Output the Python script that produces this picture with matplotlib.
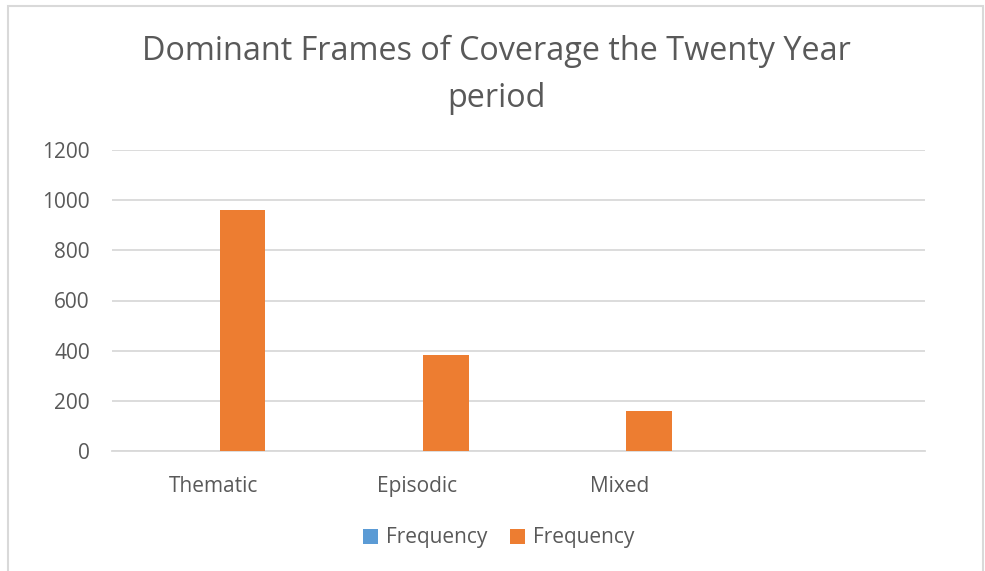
import matplotlib
matplotlib.use("Agg")
import matplotlib.pyplot as plt
from matplotlib.patches import Rectangle, Patch
import numpy as np

plt.rcParams['font.family'] = ['Open Sans', 'DejaVu Sans']

title = "Dominant Frames of Coverage the Twenty Year\nperiod"
categories = ["Thematic", "Episodic", "Mixed", ""]
series_names = ["Frequency", "Frequency"]
series_a = [0, 0, 0, 0]
series_b = [962, 383, 161, 0]
y_ticks = [0, 200, 400, 600, 800, 1000, 1200]

BLUE = "#5B9BD5"
ORANGE = "#ED7D31"
GRID = "#D9D9D9"
TEXT = "#595959"

W, H = 985, 571
fig = plt.figure(figsize=(W / 100, H / 100), dpi=100)
ax = fig.add_axes([112 / W, 1 - 451 / H, (925 - 112) / W, (451 - 150) / H])

x = np.arange(len(categories))
bw = 1 / 4.46           # gap width 219%, overlap -27%
off = 0.635 * bw
ax.bar(x - off, series_a, width=bw, color=BLUE, label=series_names[0], zorder=3)
ax.bar(x + off, series_b, width=bw, color=ORANGE, label=series_names[1], zorder=3)

ax.set_xlim(-0.5, len(categories) - 0.5)
ax.set_ylim(0, 1200)
ax.set_yticks(y_ticks)
ax.set_yticklabels([str(v) for v in y_ticks])
ax.set_xticks(x)
ax.set_xticklabels(categories)
ax.yaxis.grid(True, color=GRID, linewidth=1.3, zorder=0)
ax.set_axisbelow(True)
for s in ["top", "right", "left"]:
    ax.spines[s].set_visible(False)
ax.spines["bottom"].set_color(GRID)
ax.spines["bottom"].set_linewidth(1.3)
ax.tick_params(axis="both", length=0, labelsize=15, colors=TEXT)
ax.tick_params(axis="y", pad=16)
ax.tick_params(axis="x", pad=18)

fig.text(496 / W, 1 - 75 / H, title, ha="center", va="center",
         fontsize=23.3, color=TEXT, linespacing=1.55)

handles = [Patch(facecolor=BLUE, edgecolor="none"),
           Patch(facecolor=ORANGE, edgecolor="none")]
fig.legend(handles, series_names, loc="center",
           bbox_to_anchor=(499 / W, 1 - 538 / H), ncol=2, frameon=False,
           fontsize=15, labelcolor=TEXT, handlelength=0.7, handleheight=0.7,
           handletextpad=0.4, columnspacing=1.1)

fig.add_artist(Rectangle((7.5 / W, -0.05), (983 - 7.5) / W, 1.05 - 6.5 / H,
                         transform=fig.transFigure, fill=False,
                         edgecolor=GRID, linewidth=1.5))

fig.savefig("out.png", dpi=100, facecolor="white")
